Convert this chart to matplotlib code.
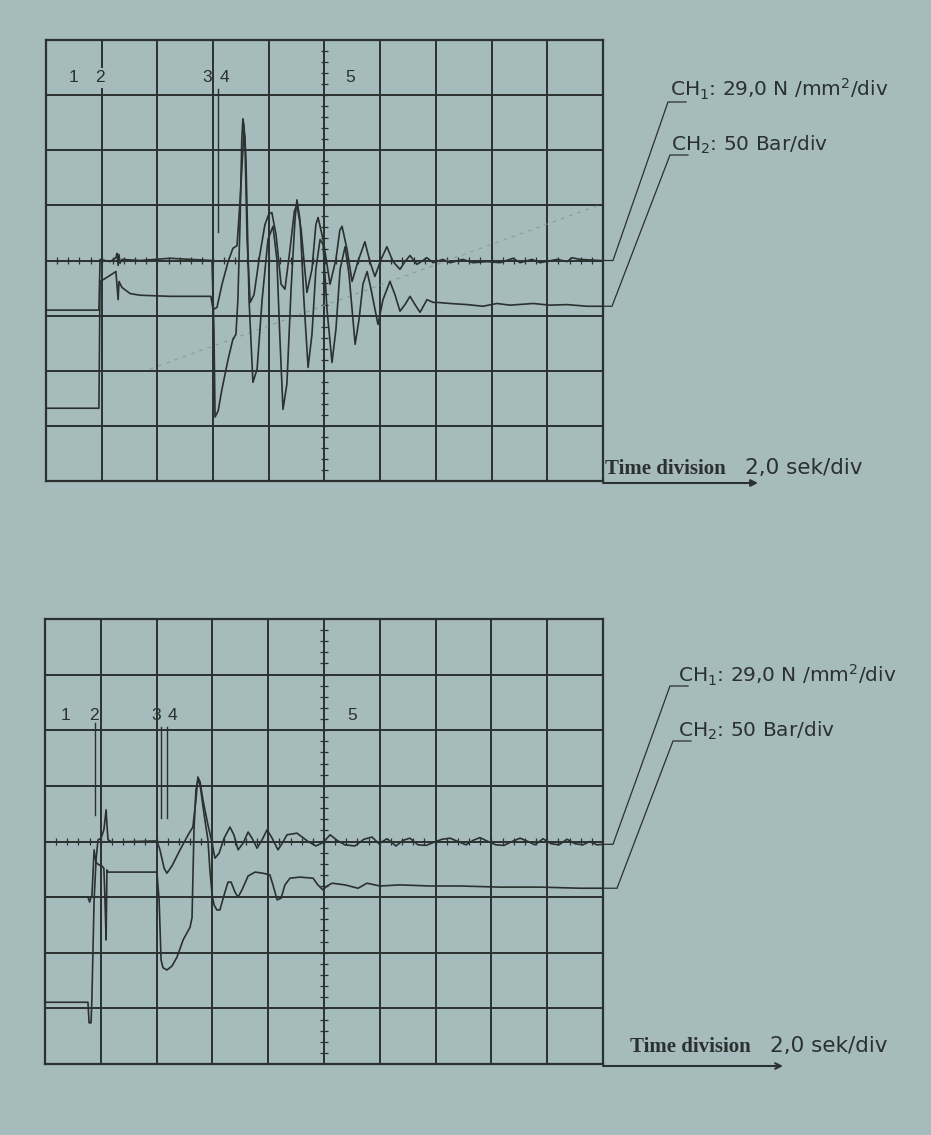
import matplotlib
matplotlib.use("Agg")
import matplotlib.pyplot as plt
import numpy as np

plt.rcParams["font.family"] = ["Liberation Sans", "DejaVu Sans"]
plt.rcParams["mathtext.fontset"] = "dejavusans"
plt.rcParams["mathtext.default"] = "regular"

BG = "#a6bbbb"
INK = "#2b3030"
FIG_W, FIG_H = 931, 1135

# time in seconds (2,0 sek/div), amplitude in screen divisions
TOP_CH1_T = [0.0, 1.90, 1.94, 2.30, 2.51, 2.55, 2.59, 2.62, 2.66, 2.73,
             3.38, 4.45, 5.96, 6.03, 6.07, 6.18, 6.32, 6.54, 6.71, 6.82,
             6.89, 6.97, 7.03, 7.07, 7.11, 7.15, 7.22, 7.33, 7.47, 7.65,
             7.86, 8.00, 8.11, 8.26, 8.44, 8.58, 8.76, 8.92, 9.01, 9.16,
             9.37, 9.55, 9.69, 9.77, 9.95, 10.20, 10.41, 10.55, 10.63, 10.81,
             10.99, 11.20, 11.45, 11.63, 11.81, 12.03, 12.24, 12.46, 12.71, 12.89,
             13.07, 13.32, 13.68, 13.90, 14.25, 14.51, 14.97, 15.33, 15.84, 16.30,
             16.77, 17.02, 17.45, 17.74, 18.35, 18.71, 18.89, 19.17, 19.89, 20.0]
TOP_CH1_Y = [-0.90, -0.90, 0.02, -0.02, 0.05, 0.13, -0.09, 0.11, -0.05, 0.02,
             0.0, 0.04, 0.0, -1.25, -2.84, -2.73, -2.33, -1.79, -1.43, -1.34,
             -0.71, 0.74, 2.20, 2.57, 2.45, 2.01, 0.38, -0.76, -0.62, 0.02,
             0.65, 0.84, 0.87, 0.47, -0.43, -0.52, 0.20, 0.90, 1.01, 0.56,
             -0.58, -0.16, 0.65, 0.78, 0.38, -0.43, 0.02, 0.55, 0.62, 0.20,
             -0.38, -0.02, 0.34, -0.02, -0.29, 0.02, 0.25, -0.02, -0.16, -0.02,
             0.09, -0.07, 0.05, -0.04, 0.02, -0.04, 0.02, -0.04, -0.02, -0.04,
             0.04, -0.04, 0.02, -0.04, 0.02, -0.02, 0.05, 0.02, 0.0, 0.0]

TOP_CH2_T = [0.0, 1.90, 1.94, 2.08, 2.30, 2.51, 2.59, 2.62, 2.73, 3.02,
             3.38, 4.45, 5.92, 6.00, 6.14, 6.32, 6.54, 6.71, 6.86, 6.97,
             7.08, 7.11, 7.14, 7.18, 7.29, 7.43, 7.58, 7.76, 7.97, 8.15,
             8.29, 8.40, 8.51, 8.65, 8.80, 8.94, 9.01, 9.12, 9.26, 9.41,
             9.55, 9.69, 9.84, 9.95, 10.09, 10.27, 10.41, 10.56, 10.74, 10.88,
             11.10, 11.24, 11.38, 11.53, 11.67, 11.92, 12.10, 12.35, 12.53, 12.71,
             12.89, 13.07, 13.25, 13.43, 13.68, 13.90, 14.04, 14.51, 15.12, 15.69,
             16.19, 16.66, 17.49, 18.10, 18.71, 19.43, 20.0]
TOP_CH2_Y = [-2.68, -2.68, -0.38, -0.34, -0.27, -0.20, -0.71, -0.38, -0.49, -0.60,
             -0.63, -0.65, -0.65, -0.89, -0.85, -0.43, -0.02, 0.22, 0.27, 1.10,
             2.10, 2.37, 2.25, 1.83, -0.71, -2.21, -1.97, -0.71, 0.38, 0.62,
             0.02, -1.43, -2.70, -2.24, -0.52, 0.74, 1.10, 0.74, -0.71, -1.94,
             -1.34, -0.16, 0.38, 0.29, -0.89, -1.85, -1.25, -0.16, 0.25, -0.25,
             -1.52, -1.07, -0.43, -0.20, -0.52, -1.16, -0.71, -0.38, -0.62, -0.92,
             -0.80, -0.65, -0.80, -0.94, -0.71, -0.76, -0.76, -0.78, -0.80, -0.83,
             -0.78, -0.81, -0.78, -0.81, -0.80, -0.83, -0.83]

BOT_CH1_T = [0.0, 1.54, 1.58, 1.65, 1.68, 1.76, 1.83, 1.90, 2.01, 2.11,
             2.19, 2.22, 2.26, 2.40, 4.01, 4.12, 4.27, 4.37, 4.55, 4.84,
             5.13, 5.30, 5.41, 5.48, 5.56, 5.66, 5.84, 5.99, 6.09, 6.24,
             6.42, 6.63, 6.77, 6.92, 7.10, 7.28, 7.42, 7.60, 7.78, 7.96,
             8.14, 8.35, 8.53, 8.67, 9.03, 9.43, 9.71, 9.96, 10.22, 10.47,
             10.75, 11.11, 11.43, 11.72, 11.97, 12.26, 12.58, 12.83, 13.08, 13.37,
             13.66, 13.91, 14.23, 14.52, 14.80, 15.09, 15.34, 15.59, 15.88, 16.16,
             16.45, 16.74, 17.03, 17.31, 17.56, 17.85, 18.14, 18.42, 18.71, 19.00,
             19.28, 19.53, 19.78, 20.0]
BOT_CH1_Y = [-2.89, -2.89, -3.26, -3.26, -2.85, -1.05, -0.33, 0.03, 0.06, 0.21,
             0.57, 0.30, 0.03, -0.01, 0.01, -0.15, -0.48, -0.57, -0.44, -0.15,
             0.12, 0.26, 0.75, 1.16, 1.07, 0.75, 0.30, -0.03, -0.30, -0.21,
             0.06, 0.26, 0.12, -0.15, -0.03, 0.17, 0.06, -0.12, 0.03, 0.21,
             0.06, -0.15, -0.01, 0.12, 0.15, 0.0, -0.08, -0.02, 0.12, 0.02,
             -0.06, -0.08, 0.04, 0.08, -0.04, 0.05, -0.08, 0.02, 0.06, -0.06,
             -0.07, -0.02, 0.04, 0.06, 0.0, -0.06, 0.02, 0.07, 0.0, -0.06,
             -0.07, 0.0, 0.06, 0.0, -0.06, 0.05, -0.04, -0.06, 0.04, -0.04,
             -0.06, 0.0, -0.06, -0.05]

BOT_CH2_T = [0.0, 1.54, 1.60, 1.65, 1.68, 1.76, 1.83, 1.94, 2.04, 2.11,
             2.15, 2.19, 2.22, 2.26, 4.01, 4.09, 4.16, 4.23, 4.37, 4.55,
             4.73, 4.95, 5.20, 5.27, 5.30, 5.34, 5.41, 5.48, 5.56, 5.63,
             5.73, 5.84, 5.91, 5.99, 6.06, 6.16, 6.27, 6.42, 6.56, 6.67,
             6.81, 6.92, 7.06, 7.28, 7.53, 7.81, 8.06, 8.17, 8.32, 8.46,
             8.60, 8.78, 9.14, 9.61, 9.78, 9.96, 10.11, 10.29, 10.75, 11.22,
             11.54, 12.01, 12.72, 13.80, 14.87, 16.31, 17.74, 19.18, 20.0]
BOT_CH2_Y = [-1.0, -1.0, -1.09, -1.0, -1.0, -0.15, -0.38, -0.42, -0.44, -0.48,
             -1.05, -1.77, -0.51, -0.55, -0.55, -1.05, -2.13, -2.27, -2.31, -2.24,
             -2.08, -1.77, -1.54, -1.37, -0.69, 0.21, 0.93, 1.11, 1.02, 0.75,
             0.39, 0.03, -0.51, -0.96, -1.14, -1.23, -1.23, -0.96, -0.73, -0.73,
             -0.91, -1.0, -0.87, -0.62, -0.55, -0.57, -0.60, -0.78, -1.05, -1.02,
             -0.78, -0.66, -0.64, -0.66, -0.78, -0.87, -0.80, -0.75, -0.78, -0.84,
             -0.75, -0.80, -0.78, -0.80, -0.80, -0.82, -0.82, -0.84, -0.84]

# event markers 1..5 and their cursor lines
EVENT_LABELS = ["1", "2", "3", "4", "5"]
TOP_EVENT_PX = [73, 100, 207, 224, 350]
BOT_EVENT_PX = [66, 94, 156, 172, 352]
TOP_CURSOR_T = [6.18]
TOP_CURSOR_Y = [(0.51, 3.11)]
BOT_CURSOR_T = [1.79, 4.16, 4.37]
BOT_CURSOR_Y = [(0.48, 2.13), (0.42, 2.06), (0.42, 2.06)]

# faint show-through line in the scan of the upper screen
GHOST_T = [3.73, 19.89]
GHOST_Y = [-1.97, 1.01]

CH1_LABEL = "CH$_1$: 29,0 N /mm$^2$/div"
CH2_LABEL = "CH$_2$: 50 Bar/div"
TIME_LABEL = "Time division"
TIME_SCALE = "2,0 sek/div"


def px_axes(fig, left, top, right, bottom):
    return fig.add_axes([left / FIG_W, 1 - bottom / FIG_H,
                         (right - left) / FIG_W, (bottom - top) / FIG_H])


def draw_screen(ax):
    ax.set_xlim(0, 20)
    ax.set_ylim(-4, 4)
    ax.set_facecolor("none")
    ax.set_xticks(np.arange(0, 21, 2))
    ax.set_yticks(np.arange(-4, 5, 1))
    ax.grid(True, color=INK, linewidth=1.4)
    ax.tick_params(length=0, labelbottom=False, labelleft=False)
    for spine in ax.spines.values():
        spine.set_color(INK)
        spine.set_linewidth(1.6)
    ax.vlines(np.arange(0.4, 20, 0.4), -0.06, 0.06, color=INK, linewidth=0.9)
    ax.hlines(np.arange(-3.8, 4, 0.2), 9.86, 10.14, color=INK, linewidth=0.9)


def leader(ax, over, y_end, corner, ext=10):
    x0, y0 = ax.transData.transform((20, y_end))
    py0 = FIG_H - y0
    cx, cy = corner
    over.plot([x0, x0 + ext, cx, cx + 18], [py0, py0, cy, cy],
              color=INK, linewidth=0.9, solid_joinstyle="miter")


fig = plt.figure(figsize=(FIG_W / 100, FIG_H / 100), dpi=100, facecolor=BG)

ax_top = px_axes(fig, 46, 40, 603, 481)
ax_bot = px_axes(fig, 45, 619, 603, 1064)
for ax in (ax_top, ax_bot):
    draw_screen(ax)

ax_top.plot(GHOST_T, GHOST_Y, color="#83979a", linewidth=0.9, dashes=(3, 4), alpha=0.8)
ax_top.plot(TOP_CH1_T, TOP_CH1_Y, color=INK, linewidth=1.2)
ax_top.plot(TOP_CH2_T, TOP_CH2_Y, color=INK, linewidth=1.2)
ax_bot.plot(BOT_CH1_T, BOT_CH1_Y, color=INK, linewidth=1.2)
ax_bot.plot(BOT_CH2_T, BOT_CH2_Y, color=INK, linewidth=1.2)

for t, (y0, y1) in zip(TOP_CURSOR_T, TOP_CURSOR_Y):
    ax_top.plot([t, t], [y0, y1], color=INK, linewidth=1.0)
for t, (y0, y1) in zip(BOT_CURSOR_T, BOT_CURSOR_Y):
    ax_bot.plot([t, t], [y0, y1], color=INK, linewidth=1.0)

over = fig.add_axes([0, 0, 1, 1], zorder=5)
over.set_xlim(0, FIG_W)
over.set_ylim(FIG_H, 0)
over.axis("off")
over.patch.set_alpha(0)

for lab, x in zip(EVENT_LABELS, TOP_EVENT_PX):
    box = dict(facecolor=BG, edgecolor="none", pad=1.5) if lab == "2" else None
    over.text(x, 78, lab, fontsize=12.5, color=INK, ha="center", va="center", bbox=box)
for lab, x in zip(EVENT_LABELS, BOT_EVENT_PX):
    over.text(x, 716, lab, fontsize=12.5, color=INK, ha="center", va="center")

fig.canvas.draw()
leader(ax_top, over, TOP_CH1_Y[-1], (668, 102))
leader(ax_top, over, TOP_CH2_Y[-1], (670, 155), ext=9)
leader(ax_bot, over, BOT_CH1_Y[-1], (670, 686))
leader(ax_bot, over, BOT_CH2_Y[-1], (673, 741), ext=14)

label_font = dict(fontsize=14.5, color=INK, va="baseline", family="DejaVu Sans")
over.text(670, 97, CH1_LABEL, **label_font)
over.text(671, 151, CH2_LABEL, **label_font)
over.text(678, 682, CH1_LABEL, **label_font)
over.text(678, 737, CH2_LABEL, **label_font)

for y_arrow, x_end, x_txt, x_scale, y_txt in [(483, 758, 605, 745, 474), (1066, 783, 630, 770, 1052)]:
    over.annotate("", xy=(x_end, y_arrow), xytext=(603, y_arrow),
                  arrowprops=dict(arrowstyle="-|>" if y_arrow < 600 else "->",
                                  color=INK, linewidth=1.5, shrinkA=0, shrinkB=0))
    over.text(x_txt, y_txt, TIME_LABEL, fontsize=15, fontweight="bold",
              family="Liberation Serif", color=INK, va="baseline")
    over.text(x_scale, y_txt, TIME_SCALE, fontsize=15.5, color=INK, va="baseline",
              family="DejaVu Sans")

fig.savefig("out.png", dpi=100, facecolor=BG)
plt.close(fig)
